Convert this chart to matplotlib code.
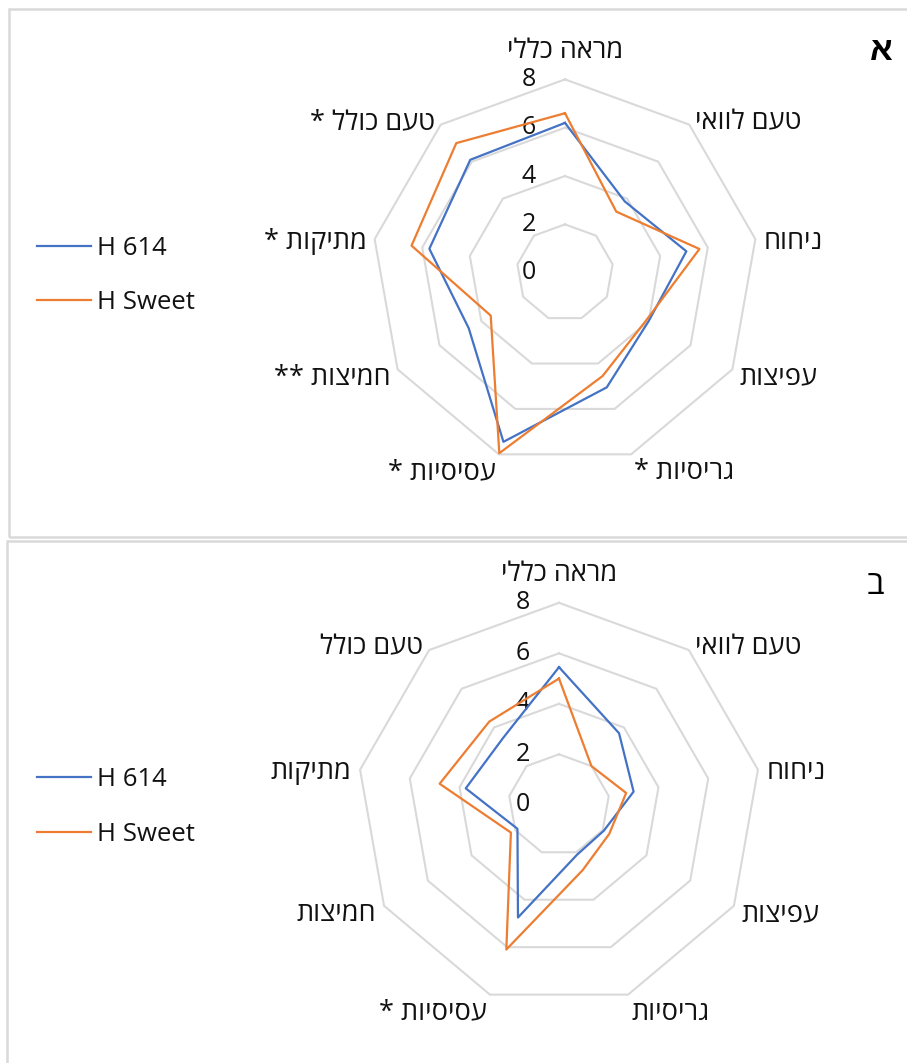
"""פרופיל חושי של שני זני רימון (H 614 מול H Sweet) – שני תרשימי רדאר, א ו-ב."""

import matplotlib
matplotlib.use("Agg")
import matplotlib.pyplot as plt  # noqa: E402
import numpy as np  # noqa: E402
from matplotlib.patches import Rectangle  # noqa: E402

plt.rcParams["font.family"] = ["Open Sans", "Liberation Sans", "DejaVu Sans"]

# תכונות הטעימה, בסדר השעון החל מלמעלה
attributes = ["מראה כללי", "טעם לוואי", "ניחוח", "עפיצות", "גריסיות",
              "עסיסיות", "חמיצות", "מתיקות", "טעם כולל"]
# סימני מובהקות לכל תכונה
marks_a = ["", "", "", "", " *", " *", " **", " *", " *"]
marks_b = ["", "", "", "", "", " *", "", "", ""]
series_names = ["H 614", "H Sweet"]

h614_a = [6.2, 3.85, 5.1, 4.0, 5.05, 7.45, 4.6, 5.7, 6.1]
hsweet_a = [6.6, 3.3, 5.65, 3.9, 4.55, 7.95, 3.55, 6.45, 7.0]
h614_b = [5.45, 3.7, 3.0, 2.05, 2.1, 4.75, 1.9, 3.75, 3.45]
hsweet_b = [5.0, 2.0, 2.7, 2.3, 2.75, 6.1, 2.2, 4.8, 4.3]

ring_values = [2, 4, 6, 8]
tick_values = [0, 2, 4, 6, 8]

BLUE = "#4472C4"
ORANGE = "#ED7D31"
GRID = "#D9D9D9"
TEXT = "#111111"
W, H = 907, 1063


def rtl(s):
    # matplotlib אינו מטפל בכיווניות – הופכים את סדר התווים לתצוגה
    return s[::-1]


def draw_radar(fig, center, radius, series, marks, legend_y, tag, tag_xy, tag_bold):
    cx, cy = center
    rect = [(cx - radius) / W, 1 - (cy + radius) / H, 2 * radius / W, 2 * radius / H]
    ax = fig.add_axes(rect, projection="polar")
    ax.set_theta_offset(np.pi / 2)
    ax.set_theta_direction(-1)
    ax.set_ylim(0, 8)
    ax.set_xticks([])
    ax.set_yticks([])
    ax.grid(False)
    ax.spines["polar"].set_visible(False)
    ax.patch.set_visible(False)

    n = len(attributes)
    angles = np.arange(n) * 2 * np.pi / n
    closed = np.append(angles, angles[0])

    for r in ring_values:
        ax.plot(closed, [r] * (n + 1), color=GRID, lw=1.5, zorder=1, clip_on=False)

    handles = []
    for vals, color in zip(series, [BLUE, ORANGE]):
        h, = ax.plot(closed, list(vals) + [vals[0]], color=color, lw=1.6,
                     zorder=3, clip_on=False)
        handles.append(h)

    for v in tick_values:
        ax.annotate(str(v), xy=(0, v), xytext=(-21, 0), textcoords="offset points",
                    ha="right", va="center", fontsize=18, color=TEXT, zorder=2,
                    annotation_clip=False)

    for ang, name, mk in zip(angles, attributes, marks):
        s, c = np.sin(ang), np.cos(ang)
        label = rtl(name + mk)
        if abs(s) < 0.1:
            ax.annotate(label, xy=(ang, 8.5), xytext=(0, 1.5), textcoords="offset points",
                        ha="center", va="bottom", fontsize=19.5, color=TEXT,
                        annotation_clip=False)
        else:
            dy = -7 if c < -0.9 else -3
            ax.annotate(label, xy=(ang, 8.35), xytext=(0, dy), textcoords="offset points",
                        ha="left" if s > 0 else "right", va="center",
                        fontsize=19.5, color=TEXT, annotation_clip=False)

    ax.legend(handles, series_names, loc="center left",
              bbox_to_anchor=(37 / W, 1 - legend_y / H), bbox_transform=fig.transFigure,
              frameon=False, fontsize=18.5, labelcolor=TEXT, handlelength=2.1,
              handletextpad=0.25, labelspacing=1.15, borderpad=0, borderaxespad=0)

    fig.text(tag_xy[0] / W, 1 - tag_xy[1] / H, tag, ha="center", va="center",
             fontsize=24, fontweight="bold" if tag_bold else "normal", color="black")
    return ax


fig = plt.figure(figsize=(W / 100, H / 100), dpi=100)
fig.patch.set_facecolor("white")

# מסגרות שני התרשימים
fig.add_artist(Rectangle((9 / W, 1 - 537 / H), 1.05, 528 / H, transform=fig.transFigure,
                         fill=False, ec=GRID, lw=1.8, clip_on=False))
fig.add_artist(Rectangle((7 / W, -0.05), 1.05, (H - 541) / H + 0.05,
                         transform=fig.transFigure, fill=False, ec=GRID, lw=1.8,
                         clip_on=False))

draw_radar(fig, (565, 272.7), 193.3, [h614_a, hsweet_a], marks_a, 275.5,
           "א", (881, 51), True)
draw_radar(fig, (559, 804.8), 202.0, [h614_b, hsweet_b], marks_b, 807,
           "ב", (875, 585), False)

fig.savefig("out.png", dpi=100)
plt.close(fig)
